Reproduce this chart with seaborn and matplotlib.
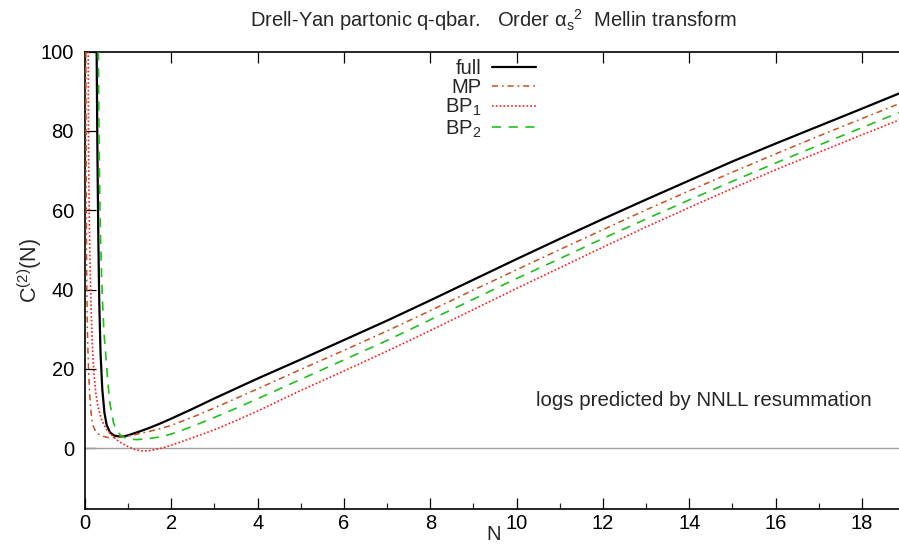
import numpy as np
import pandas as pd
import matplotlib
matplotlib.use("Agg")
import matplotlib.pyplot as plt
import seaborn as sns

# ---- data ----
full_N = [0.27, 0.28, 0.29, 0.31, 0.33, 0.36, 0.40, 0.45, 0.50, 0.58, 0.68, 0.80, 0.90, 1.00, 1.25, 1.50, 1.75,
          2, 2.5, 3, 3.5, 4, 5, 6, 7, 8, 9, 10, 11, 12, 13, 14, 15, 16, 17, 18, 18.9]
full_C = [100, 85, 72, 52, 37, 24, 15, 9, 6, 4, 3.2, 3.0, 3.0, 3.3, 4.2, 5.2, 6.3,
          7.5, 10.0, 12.6, 15.1, 17.6, 22.4, 27.3, 32.2, 37.3, 42.5, 47.7, 52.8, 57.8, 62.7, 67.5, 72.3, 76.8, 81.2,
          85.6, 89.6]

mp_N = [0.02, 0.025, 0.03, 0.035, 0.045, 0.055, 0.07, 0.085, 0.10, 0.12, 0.14, 0.16, 0.20, 0.25, 0.31, 0.40, 0.50,
        0.60, 0.80, 1.00, 1.25, 1.50, 1.75, 2, 2.5, 3, 3.5, 4, 5, 6, 7, 8, 9, 10, 11, 12, 13, 14, 15, 16, 17, 18, 18.9]
mp_C = [100, 80, 62, 50, 38, 30, 24, 19, 15.5, 11.5, 9, 7.2, 5.3, 4.3, 3.6, 3.1, 2.8,
        2.7, 2.8, 3.1, 3.7, 4.3, 5.0, 5.8, 7.9, 10.2, 12.6, 15.0, 19.9, 24.7, 29.6, 34.7, 39.9, 45.0, 50.1, 55.1, 60.1,
        64.9, 69.6, 74.2, 78.7, 83.1, 87.0]

bp1_N = [0.075, 0.08, 0.09, 0.10, 0.12, 0.14, 0.16, 0.18, 0.21, 0.25, 0.30, 0.39, 0.50, 0.65, 0.80, 0.97, 1.15,
         1.35, 1.55, 1.75, 2, 2.5, 3, 3.5, 4, 5, 6, 7, 8, 9, 10, 11, 12, 13, 14, 15, 16, 17, 18, 18.9]
bp1_C = [100, 80, 66, 57, 45, 36, 29, 23.7, 18.5, 14, 10.5, 7, 4.8, 3.0, 1.6, 0.6, -0.3,
         -0.7, -0.5, 0.0, 0.8, 2.7, 4.7, 7.0, 9.4, 14.6, 19.5, 24.5, 29.7, 35.0, 40.3, 45.5, 50.7, 55.8, 60.7,
         65.5, 70.2, 74.6, 79.0, 82.9]

bp2_N = [0.31, 0.32, 0.33, 0.345, 0.36, 0.385, 0.41, 0.44, 0.48, 0.53, 0.58, 0.66, 0.73, 0.85, 1.0, 1.2, 1.5,
         1.75, 2, 2.5, 3, 3.5, 4, 5, 6, 7, 8, 9, 10, 11, 12, 13, 14, 15, 16, 17, 18, 18.9]
bp2_C = [100, 85, 74, 62, 53, 43, 36, 29, 23.7, 16.5, 11.2, 6.5, 4.5, 3.0, 2.4, 2.2, 2.5,
         2.9, 3.6, 5.6, 7.8, 10.1, 12.5, 17.4, 22.3, 27.2, 32.4, 37.6, 42.8, 47.8, 52.9, 57.8, 62.6, 67.3, 71.9,
         76.4, 80.8, 84.8]

labels = ["full", "MP", "BP$_1$", "BP$_2$"]
x_ticks = [0, 2, 4, 6, 8, 10, 12, 14, 16, 18]
y_ticks = [0, 20, 40, 60, 80, 100]

# ---- style ----
sns.set_theme(style="ticks")
plt.rcParams["font.family"] = ["Liberation Sans", "DejaVu Sans"]
plt.rcParams["mathtext.fontset"] = "custom"
plt.rcParams["mathtext.rm"] = "Liberation Sans"
plt.rcParams["mathtext.it"] = "Liberation Sans"
plt.rcParams["mathtext.bf"] = "Liberation Sans:bold"

fig = plt.figure(figsize=(8.99, 5.45), dpi=100)
ax = fig.add_axes([85 / 899, 1 - 508.7 / 545, 1 - 85 / 899 + 0.002, (508.7 - 51.5) / 545])

ax.axhline(0, color="#a0a0a0", lw=1.0, zorder=1)

series = [
    (full_N, full_C, labels[0], "black", 1.6, "-"),
    (mp_N, mp_C, labels[1], "#c8501e", 1.1, (0, (4.0, 2.5, 1.2, 2.5))),
    (bp1_N, bp1_C, labels[2], "#ff1a1a", 1.2, (0, (1.0, 1.3))),
    (bp2_N, bp2_C, labels[3], "#1ec01e", 1.2, (0, (5.5, 4.5))),
]
for N, C, lab, col, lw, ls in series:
    df = pd.DataFrame({"N": N, "C": C})
    sns.lineplot(data=df, x="N", y="C", ax=ax, color=col, lw=lw, linestyle=ls,
                 label=lab, sort=False, estimator=None, zorder=3)

ax.set_xlim(0, 18.9)
ax.set_ylim(-15.2, 100)
ax.set_xticks(x_ticks)
ax.set_xticks(np.arange(1, 19, 2), minor=True)
ax.set_yticks(y_ticks)
ax.tick_params(which="major", direction="in", length=8, width=0.9, top=True, right=False,
               labelsize=14.5, colors="black")
ax.tick_params(axis="x", which="minor", direction="in", length=4, width=0.9, top=False, bottom=True)
ax.tick_params(axis="x", which="major", pad=4)
ax.tick_params(axis="y", which="major", pad=8)
for s in ["left", "bottom", "top"]:
    ax.spines[s].set_linewidth(1.2)
    ax.spines[s].set_color("black")
ax.spines["right"].set_visible(False)

ax.set_xlabel("")
ax.set_ylabel("")
fig.text(494 / 899, 1 - 535 / 545, "N", ha="center", va="center", fontsize=14.5)
fig.text(30 / 899, 1 - 270 / 545, "C$^{(2)}$(N)", ha="center", va="center", rotation=90, fontsize=15.5)
fig.text(494 / 899, 1 - 20 / 545, "Drell-Yan partonic q-qbar.   Order \u03b1$_{\\rm s}{}^{2}$  Mellin transform",
         ha="center", va="center", fontsize=14.5)
fig.text(704 / 899, 1 - 400 / 545, "logs predicted by NNLL resummation", ha="center", va="center",
         fontsize=14.8)

leg = ax.legend(loc="upper right", bbox_to_anchor=(536 / 899, 1 - 59 / 545), bbox_transform=fig.transFigure,
                frameon=False, markerfirst=False, fontsize=14.5, handlelength=2.2, handletextpad=0.5,
                labelspacing=0.0, borderpad=0, borderaxespad=0)

fig.savefig("out.png", dpi=100)
